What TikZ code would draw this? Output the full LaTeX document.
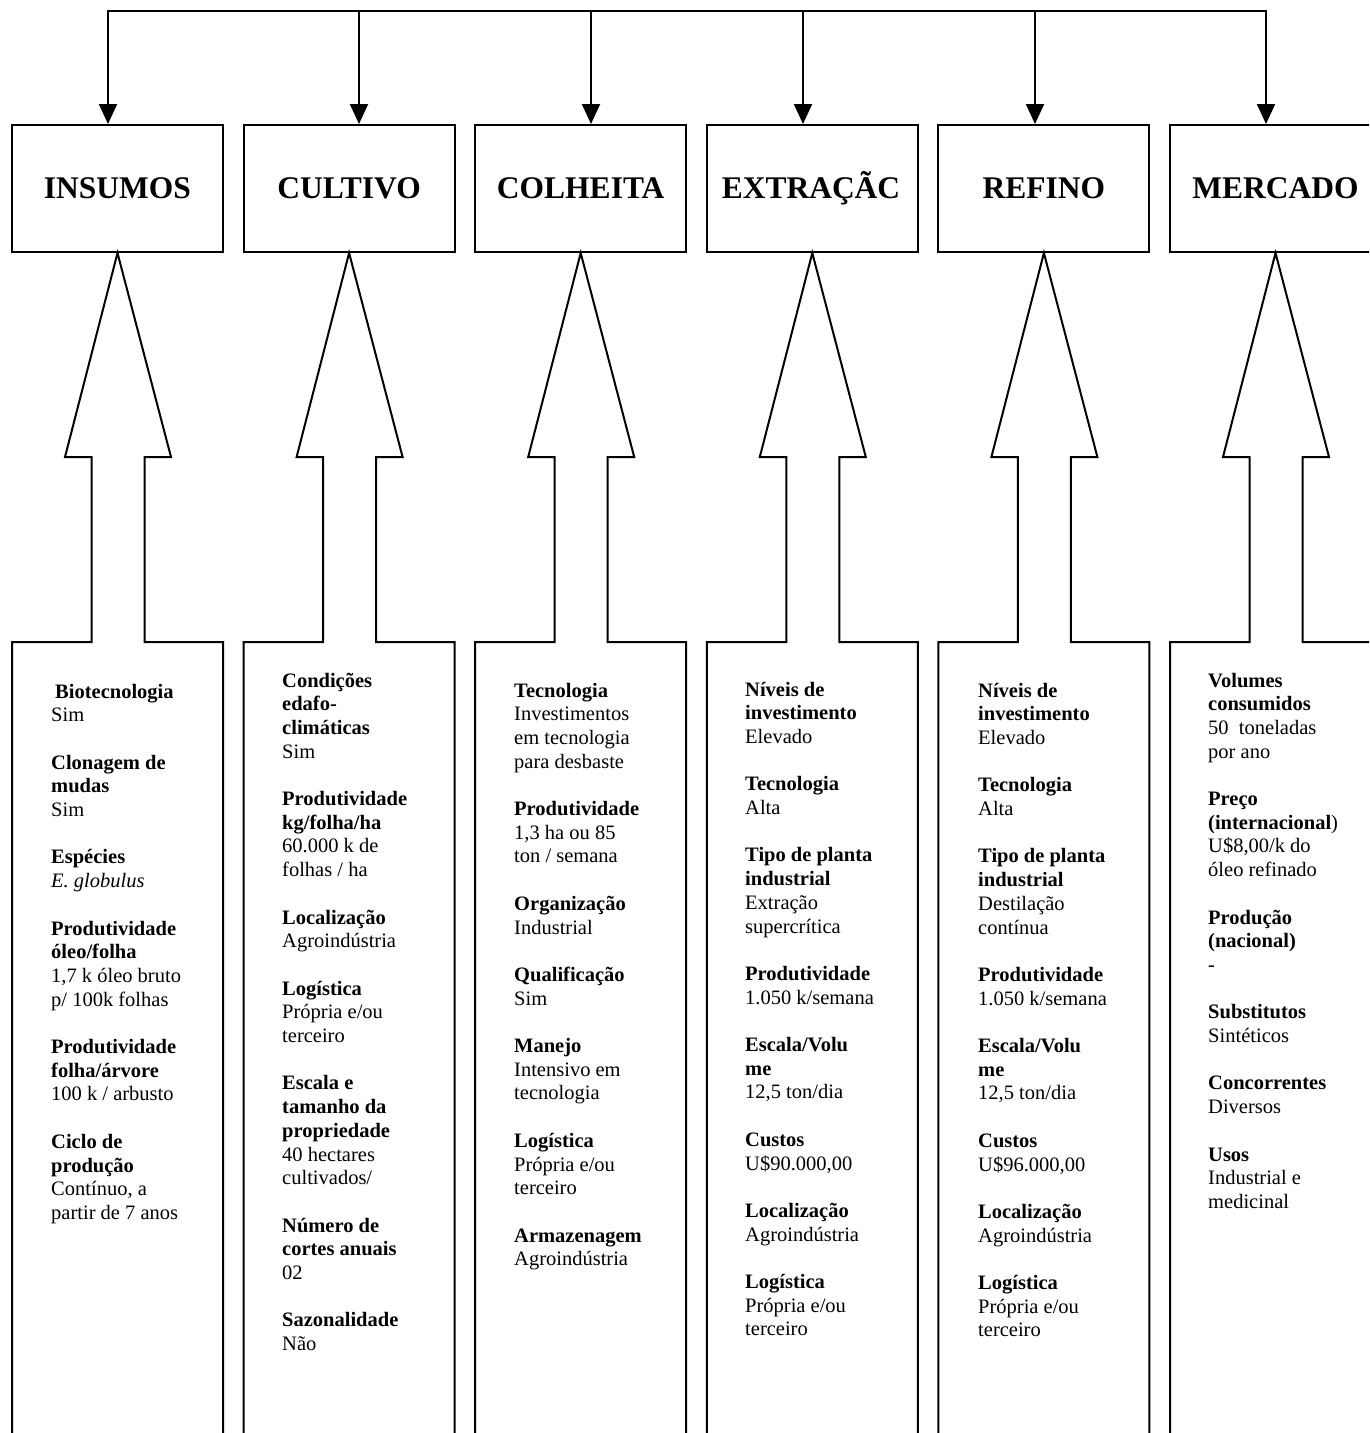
\documentclass[tikz,border=0pt]{standalone}
\usepackage{fontspec}
\setmainfont{Liberation Serif}
\usetikzlibrary{arrows.meta}
\tikzset{
  outline/.style={line width=2pt, line join=miter},
  titlebox/.style={draw, line width=2pt, minimum width=211pt, minimum height=127pt, inner sep=0pt,
    font=\fontsize{31.5}{36}\selectfont\bfseries},
  info/.style={anchor=base west, align=left, inner sep=0pt, font=\fontsize{20.5}{23.7}\selectfont},
  feed/.style={line width=2pt, -{Triangle[width=18pt,length=20pt]}},
  topline/.style={line width=2pt, line cap=rect},
}
\newcommand\hb[1]{\textbf{#1}}
\newcommand\gap{\\[23.7pt]}
\begin{document}
\begin{tikzpicture}[x=1pt,y=-1pt]
\clip (0,0) rectangle (1369,1433);
\fill[white] (0,0) rectangle (1369,1433);

% title boxes
\foreach \L/\n/\t in {12/c1/INSUMOS, 243.6/c2/CULTIVO, 475.2/c3/COLHEITA, 938.4/c5/REFINO, 1170/c6/MERCADO}{
  \node[titlebox] (\n) at ({\L+105.5},188.5) {\t};
}
\node[titlebox] (c4) at ({706.8+105.5},188.5) {};
\node[font=\fontsize{31.5}{36}\selectfont\bfseries, inner sep=0pt] (c4t) at (811,188.5) {EXTRAÇÃC};

% arrow + body outlines
\foreach \L/\n in {12/c1, 243.6/c2, 475.2/c3, 706.8/c4, 938.4/c5, 1170/c6}{
  \draw[outline] (\L,1460) -- (\L,642) -- ({\L+79.5},642) -- ({\L+79.5},457) -- ({\L+53},457)
    -- (\n.south) -- ({\L+159},457) -- ({\L+132.5},457) -- ({\L+132.5},642)
    -- ({\L+211},642) -- ({\L+211},1460);
}

% top distribution line
\coordinate (ta) at (108,11);
\coordinate (tb) at (359,11);
\coordinate (tc) at (591,11);
\coordinate (td) at (803,11);
\coordinate (te) at (1035,11);
\coordinate (tf) at (1266,11);
\draw[topline] (ta) -- (tf);
\draw[feed] (ta) -- (ta |- c1.north);
\draw[feed] (tb) -- (tb |- c2.north);
\draw[feed] (tc) -- (tc |- c3.north);
\draw[feed] (td) -- (td |- c4.north);
\draw[feed] (te) -- (te |- c5.north);
\draw[feed] (tf) -- (tf |- c6.north);

% column texts (anchored at the baseline of their last line)
\node[info] (t1) at (51,1219.4) {%
\hspace*{4pt}\hb{Biotecnologia}\\ Sim\gap
\hb{Clonagem de}\\ \hb{mudas}\\ Sim\gap
\hb{Espécies}\\ \textit{E. globulus}\gap
\hb{Produtividade}\\ \hb{óleo/folha}\\ 1,7 k óleo bruto\\ p/ 100k folhas\gap
\hb{Produtividade}\\ \hb{folha/árvore}\\ 100 k / arbusto\gap
\hb{Ciclo de}\\ \hb{produção}\\ Contínuo, a\\ partir de 7 anos};

\node[info] (t2) at (282,1350.6) {%
\hb{Condições}\\ \hb{edafo-}\\ \hb{climáticas}\\ Sim\gap
\hb{Produtividade}\\ \hb{kg/folha/ha}\\ 60.000 k de\\ folhas / ha\gap
\hb{Localização}\\ Agroindústria\gap
\hb{Logística}\\ Própria e/ou\\ terceiro\gap
\hb{Escala e}\\ \hb{tamanho da}\\ \hb{propriedade}\\ 40 hectares\\ cultivados/\gap
\hb{Número de}\\ \hb{cortes anuais}\\ 02\gap
\hb{Sazonalidade}\\ Não};

\node[info] (t3) at (514,1265.8) {%
\hb{Tecnologia}\\ Investimentos\\ em tecnologia\\ para desbaste\gap
\hb{Produtividade}\\ 1,3 ha ou 85\\ ton / semana\gap
\hb{Organização}\\ Industrial\gap
\hb{Qualificação}\\ Sim\gap
\hb{Manejo}\\ Intensivo em\\ tecnologia\gap
\hb{Logística}\\ Própria e/ou\\ terceiro\gap
\hb{Armazenagem}\\ Agroindústria};

\node[info] (t4) at (745,1335.9) {%
\hb{Níveis de}\\ \hb{investimento}\\ Elevado\gap
\hb{Tecnologia}\\ Alta\gap
\hb{Tipo de planta}\\ \hb{industrial}\\ Extração\\ supercrítica\gap
\hb{Produtividade}\\ 1.050 k/semana\gap
\hb{Escala/Volu}\\ \hb{me}\\ 12,5 ton/dia\gap
\hb{Custos}\\ U\$90.000,00\gap
\hb{Localização}\\ Agroindústria\gap
\hb{Logística}\\ Própria e/ou\\ terceiro};

\node[info] (t5) at (978,1336.9) {%
\hb{Níveis de}\\ \hb{investimento}\\ Elevado\gap
\hb{Tecnologia}\\ Alta\gap
\hb{Tipo de planta}\\ \hb{industrial}\\ Destilação\\ contínua\gap
\hb{Produtividade}\\ 1.050 k/semana\gap
\hb{Escala/Volu}\\ \hb{me}\\ 12,5 ton/dia\gap
\hb{Custos}\\ U\$96.000,00\gap
\hb{Localização}\\ Agroindústria\gap
\hb{Logística}\\ Própria e/ou\\ terceiro};

\node[info] (t6) at (1208,1208.4) {%
\hb{Volumes}\\ \hb{consumidos}\\ 50\ \ toneladas\\ por ano\gap
\hb{Preço}\\ \hb{(internacional})\\ U\$8,00/k do\\ óleo refinado\gap
\hb{Produção}\\ \hb{(nacional)}\\ -\gap
\hb{Substitutos}\\ Sintéticos\gap
\hb{Concorrentes}\\ Diversos\gap
\hb{Usos}\\ Industrial e\\ medicinal};
\end{tikzpicture}
\end{document}
